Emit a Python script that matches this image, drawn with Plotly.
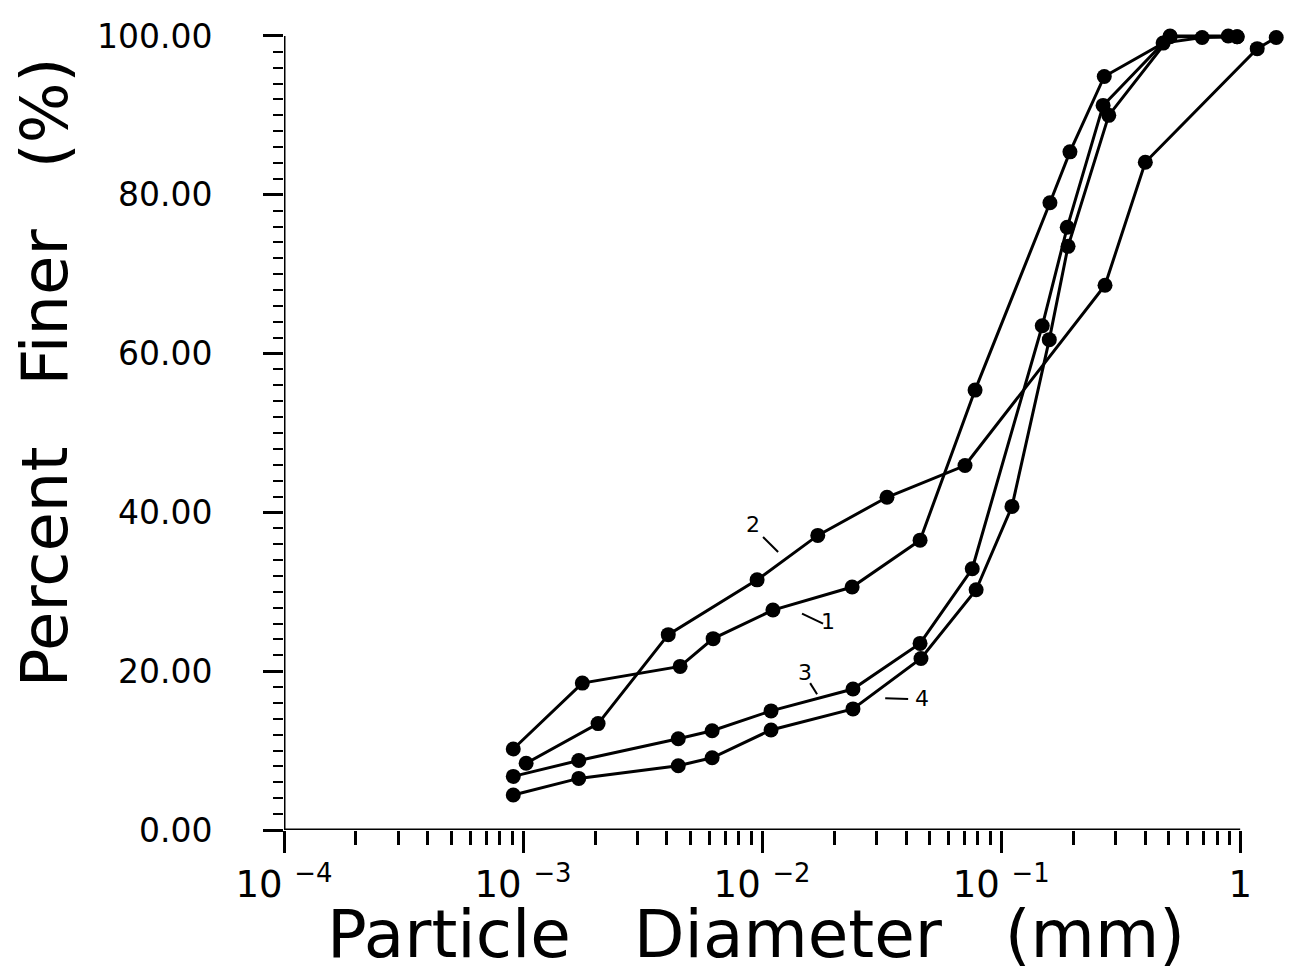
import plotly.graph_objects as go

# grain size distribution curves
s1_d = [0.00091, 0.00177, 0.00454, 0.00624, 0.0111, 0.0238, 0.0458, 0.0778, 0.160, 0.194, 0.270, 0.476, 0.693, 0.971]
s1_p = [10.2, 18.5, 20.6, 24.1, 27.7, 30.6, 36.5, 55.4, 79.0, 85.4, 94.9, 99.1, 99.8, 99.9]

s2_d = [0.00103, 0.00206, 0.00405, 0.00953, 0.0171, 0.0333, 0.0706, 0.272, 0.401, 1.178, 1.415]
s2_p = [8.4, 13.4, 24.6, 31.5, 37.1, 41.9, 45.9, 68.6, 84.1, 98.4, 99.8]

s3_d = [0.00091, 0.00171, 0.00446, 0.00618, 0.0109, 0.0240, 0.0458, 0.0757, 0.1486, 0.189, 0.267, 0.509, 0.891]
s3_p = [6.75, 8.75, 11.5, 12.5, 15.0, 17.75, 23.5, 32.9, 63.5, 75.9, 91.25, 100.0, 100.0]

s4_d = [0.00091, 0.00171, 0.00446, 0.00618, 0.0109, 0.0240, 0.0462, 0.0786, 0.111, 0.159, 0.1905, 0.282, 0.509, 0.971]
s4_p = [4.4, 6.5, 8.1, 9.1, 12.6, 15.25, 21.6, 30.25, 40.75, 61.75, 73.5, 90.0, 99.9, 99.9]

x_ticks = [1e-4, 1e-3, 1e-2, 1e-1, 1]
x_labels = ['10 <sup>−4</sup>', '10 <sup>−3</sup>', '10 <sup>−2</sup>', '10 <sup>−1</sup>', '1']
x_minor = [k * 10 ** e for e in range(-4, 0) for k in range(2, 10)]
y_ticks = [0, 20, 40, 60, 80, 100]
y_labels = ['%.2f' % v for v in y_ticks]

FONT = 'DejaVu Sans'
NB = '\u00a0'

fig = go.Figure()
for d, p in [(s1_d, s1_p), (s2_d, s2_p), (s3_d, s3_p), (s4_d, s4_p)]:
    fig.add_trace(go.Scatter(x=d, y=p, mode='lines+markers',
                             line=dict(color='black', width=3),
                             marker=dict(color='black', size=15),
                             cliponaxis=False, showlegend=False))

# page body has an 8px margin, so the figure is 8px smaller than the window
fig.update_layout(
    width=1289, height=966,
    margin=dict(l=276, r=9, t=14, b=144),
    paper_bgcolor='white', plot_bgcolor='white',
    font=dict(family=FONT, color='black'),
    xaxis=dict(type='log', range=[-4, 0.2], tickmode='array',
               tickvals=x_ticks, ticktext=x_labels,
               ticks='outside', ticklen=22, tickwidth=2.5, tickcolor='black',
               tickfont=dict(size=37, family=FONT),
               showgrid=False, zeroline=False, showline=False,
               minor=dict(tickvals=x_minor, ticks='outside', ticklen=14,
                          tickwidth=2.5, tickcolor='black', showgrid=False)),
    yaxis=dict(range=[0, 101], tickmode='array',
               tickvals=y_ticks, ticktext=y_labels,
               ticks='outside', ticklen=20, tickwidth=2.5, tickcolor='black',
               tickfont=dict(size=33, family=FONT), ticklabelstandoff=44,
               showgrid=False, zeroline=False, showline=False,
               minor=dict(tickmode='linear', tick0=0, dtick=2, ticks='outside',
                          ticklen=10, tickwidth=2, tickcolor='black', showgrid=False)),
)

# axis lines: x axis stops at 1 mm, y axis stops at 100 %
fig.add_shape(type='line', xref='x', yref='y', x0=1e-4, x1=1, y0=0, y1=0,
              line=dict(color='black', width=3))
fig.add_shape(type='line', xref='x', yref='y', x0=1e-4, x1=1e-4, y0=0, y1=100,
              line=dict(color='black', width=3))

# curve labels (annotation x in log10 units) with small leader strokes (shape x in mm)
curve_tags = [
    ('2', -2.038, 38.5, (-1.996, 36.9, -1.933, 35.0)),
    ('1', -1.724, 26.3, (-1.833, 27.25, -1.745, 26.0)),
    ('3', -1.820, 19.8, (-1.799, 18.5, -1.770, 17.1)),
    ('4', -1.331, 16.6, (-1.485, 16.6, -1.389, 16.5)),
]
for txt, tx, ty, (lx0, ly0, lx1, ly1) in curve_tags:
    fig.add_annotation(x=tx, y=ty, xref='x', yref='y', text=txt, showarrow=False,
                       font=dict(size=22, family=FONT))
    fig.add_shape(type='line', xref='x', yref='y', x0=10 ** lx0, y0=ly0, x1=10 ** lx1, y1=ly1,
                  line=dict(color='black', width=2))

fig.add_annotation(x=0.470, y=-0.1302, xref='paper', yref='paper',
                   text='Particle' + NB * 3 + 'Diameter' + NB * 3 + '(mm)',
                   showarrow=False, xanchor='center', yanchor='middle',
                   font=dict(size=66, family=FONT))
fig.add_annotation(x=-0.2372, y=0.5705, xref='paper', yref='paper',
                   text='Percent' + NB * 3 + 'Finer' + NB * 3 + '(%)',
                   textangle=-90, showarrow=False, xanchor='center', yanchor='middle',
                   font=dict(size=64, family=FONT))

fig.write_html("out.html")
